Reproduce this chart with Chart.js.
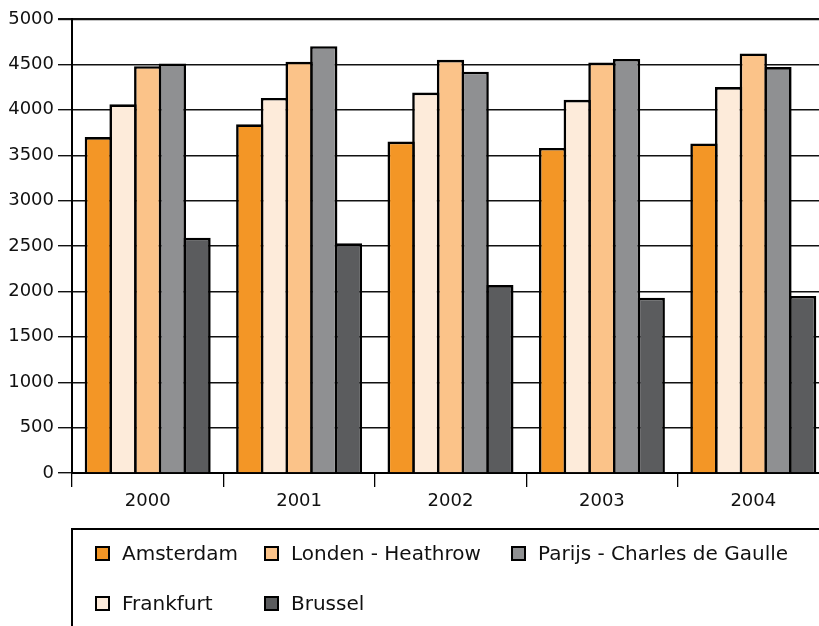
<html>

<head>
    <script src="https://cdn.jsdelivr.net/npm/chart.js@4/dist/chart.umd.min.js"></script>
    <style>
        body { margin: 0; overflow: hidden; background: #fff; }
        #wrap { position: relative; width: 819px; height: 626px; overflow: hidden; }
        #myChart { position: absolute; left: 0; top: 0; }
        #legend {
            position: absolute; left: 71px; top: 528px; width: 780px; height: 120px;
            border: 2px solid #000; font-family: "DejaVu Sans"; font-size: 20px; color: #111;
        }
        .item { position: absolute; height: 20px; line-height: 20px; white-space: nowrap; }
        .box { position: absolute; left: 0; top: 3px; width: 11px; height: 11px; border: 2px solid #000; }
        .txt { position: absolute; left: 27px; top: 0; }
    </style>
</head>

<body>
    <div id="wrap">
        <canvas id="myChart" width="830" height="530"></canvas>
        <div id="legend"></div>
    </div>
    <script>
        // passagiers per luchthaven
        var years = ["2000", "2001", "2002", "2003", "2004"];
        var airports = ["Amsterdam", "Frankfurt", "Londen - Heathrow", "Parijs - Charles de Gaulle", "Brussel"];
        var colors = ["#f39626", "#fdebda", "#fbc389", "#8f9092", "#5b5c5e"];
        var amsterdam = [3700, 3840, 3650, 3580, 3630];
        var frankfurt = [4060, 4130, 4190, 4110, 4250];
        var londen = [4480, 4530, 4550, 4520, 4620];
        var parijs = [4510, 4700, 4420, 4560, 4470];
        var brussel = [2590, 2530, 2070, 1930, 1950];
        var yTicks = [0, 500, 1000, 1500, 2000, 2500, 3000, 3500, 4000, 4500, 5000];

        var series = [amsterdam, frankfurt, londen, parijs, brussel];
        var datasets = series.map(function (vals, i) {
            return {
                label: airports[i],
                data: vals,
                backgroundColor: colors[i],
                borderColor: "#000",
                borderWidth: 2.6,
                barPercentage: 1.105,
                categoryPercentage: 0.815
            };
        });

        var tickFont = { family: "DejaVu Sans", size: 18 };

        new Chart("myChart", {
            type: "bar",
            data: { labels: years, datasets: datasets },
            options: {
                responsive: false,
                animation: false,
                layout: { padding: { top: 19, right: 1, left: 0, bottom: 0 } },
                plugins: { legend: { display: false }, tooltip: { enabled: false } },
                scales: {
                    x: {
                        grid: { drawOnChartArea: false, drawTicks: true, tickLength: 14, color: "#000", lineWidth: 1.3 },
                        border: { color: "#000", width: 2 },
                        ticks: { padding: 4, color: "#111", font: tickFont },
                        afterFit: function (s) { s.height = 57; }
                    },
                    y: {
                        min: yTicks[0],
                        max: yTicks[yTicks.length - 1],
                        afterBuildTicks: function (s) { s.ticks = yTicks.map(function (v) { return { value: v }; }); },
                        grid: {
                            color: "#111",
                            tickLength: 14,
                            lineWidth: function (c) { return c.tick && c.tick.value === 5000 ? 2.2 : 1.4; }
                        },
                        border: { color: "#000", width: 2 },
                        ticks: {
                            padding: 4, color: "#111", font: tickFont,
                            callback: function (v) { return String(v); }
                        },
                        afterFit: function (s) { s.width = 72; }
                    }
                }
            }
        });

        // legenda: twee rijen, kolommen zoals in het origineel
        var spots = [[22, 13], [22, 63], [191, 13], [438, 13], [191, 63]];
        var legend = document.getElementById("legend");
        airports.forEach(function (name, i) {
            var it = document.createElement("div");
            it.className = "item";
            it.style.left = spots[i][0] + "px";
            it.style.top = spots[i][1] + "px";
            it.innerHTML = '<span class="box" style="background:' + colors[i] + '"></span><span class="txt">' + name + '</span>';
            legend.appendChild(it);
        });
    </script>
</body>

</html>
